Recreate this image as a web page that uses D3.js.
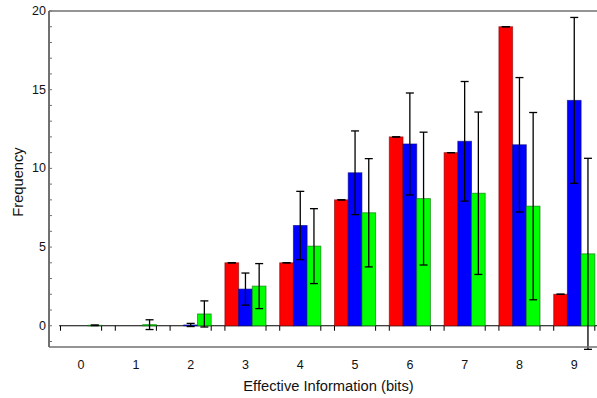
<!DOCTYPE html>
<html><head><meta charset="utf-8">
<script src="https://cdn.jsdelivr.net/npm/d3@7"></script>
<style>body{margin:0;background:#fff}svg{display:block}text{font-family:"Liberation Sans",Arial,sans-serif;fill:#111}</style>
</head><body><svg id="c" width="597" height="398"></svg>
<script>
const categories = [0,1,2,3,4,5,6,7,8,9];
const redValues   = [0, 0, 0, 4, 4, 8, 12, 11, 19, 2];
const redErr      = [0, 0, 0, 0, 0, 0, 0, 0, 0, 0];
const blueValues  = [0, 0, 0.05, 2.33, 6.37, 9.72, 11.55, 11.72, 11.5, 14.32];
const blueErr     = [0, 0, 0.1, 1.02, 2.17, 2.66, 3.24, 3.8, 4.27, 5.27];
const greenValues = [0.03, 0.07, 0.75, 2.52, 5.06, 7.18, 8.08, 8.42, 7.6, 4.57];
const greenErr    = [0.02, 0.31, 0.83, 1.43, 2.38, 3.44, 4.22, 5.16, 5.95, 6.07];
const yMajorTicks = [0, 5, 10, 15, 20];
const yMinorTicks = d3.range(-1, 21, 1);

const svg = d3.select("#c");
const L = 49, T = 11, B = 347;
const x = d3.scaleLinear().domain([-0.585, 9.6]).range([L, L + 10.185 * 54.8]);
const y = d3.scaleLinear().domain([-1.35, 20]).range([B, T]);
const bw = (x(1) - x(0)) / 4;
const series = [
  {vals: redValues, err: redErr, fill: "#ff0000", stroke: "#800000", off: -1.5},
  {vals: blueValues, err: blueErr, fill: "#0000ff", stroke: "#000080", off: -0.5},
  {vals: greenValues, err: greenErr, fill: "#00ff00", stroke: "#007000", off: 0.5}
];

// zero line
svg.append("line").attr("x1", x(-0.4)).attr("x2", 600).attr("y1", y(0)).attr("y2", y(0))
  .attr("stroke", "#000").attr("stroke-width", 1);
// group edge ticks
categories.forEach(c => {
  [-1.5, 1.5].forEach(o => {
    const xx = x(c) + o * bw;
    svg.append("line").attr("x1", xx).attr("x2", xx).attr("y1", y(0)).attr("y2", y(0) + 5)
      .attr("stroke", "#000").attr("stroke-width", 1);
  });
});

// bars
series.forEach(s => {
  svg.append("g").selectAll("rect").data(categories).join("rect")
    .attr("x", c => x(c) + s.off * bw)
    .attr("width", bw)
    .attr("y", c => y(Math.max(0, s.vals[c])))
    .attr("height", c => Math.abs(y(s.vals[c]) - y(0)))
    .attr("fill", s.fill).attr("stroke", s.stroke).attr("stroke-opacity", 0.6).attr("stroke-width", 1);
});
// error bars
series.forEach(s => {
  const g = svg.append("g").attr("stroke", "#000").attr("stroke-width", 1.3);
  categories.forEach(c => {
    const cx = x(c) + (s.off + 0.5) * bw;
    const v = s.vals[c], e = s.err[c];
    if (v === 0 && e === 0) return;
    g.append("line").attr("x1", cx).attr("x2", cx).attr("y1", y(v + e)).attr("y2", y(v - e));
    g.append("line").attr("x1", cx - 4).attr("x2", cx + 4).attr("y1", y(v + e)).attr("y2", y(v + e));
    g.append("line").attr("x1", cx - 4).attr("x2", cx + 4).attr("y1", y(v - e)).attr("y2", y(v - e));
  });
});

// frame
const axisColor = "#707070";
svg.append("line").attr("x1", L).attr("x2", 600).attr("y1", T).attr("y2", T).attr("stroke", axisColor).attr("stroke-width", 1.5);
svg.append("line").attr("x1", L).attr("x2", 600).attr("y1", B).attr("y2", B).attr("stroke", axisColor).attr("stroke-width", 1.5);
svg.append("line").attr("x1", L).attr("x2", L).attr("y1", T).attr("y2", B).attr("stroke", axisColor).attr("stroke-width", 2);
// y ticks
yMinorTicks.forEach(t => {
  svg.append("line").attr("x1", L).attr("x2", L + 3).attr("y1", y(t)).attr("y2", y(t)).attr("stroke", axisColor).attr("stroke-width", 1);
});
svg.append("g").selectAll("text").data(yMajorTicks).join("text")
  .attr("x", 46).attr("y", d => y(d) + 4).attr("text-anchor", "end").attr("font-size", 12.5).text(d => d);
// x labels
svg.append("g").selectAll("text").data(categories).join("text")
  .attr("x", d => x(d)).attr("y", 369).attr("text-anchor", "middle").attr("font-size", 12.5).text(d => d);
// titles
svg.append("text").attr("x", 328.5).attr("y", 391).attr("text-anchor", "middle").attr("font-size", 14.7).text("Effective Information (bits)");
svg.append("text").attr("transform", "translate(23,182) rotate(-90)").attr("text-anchor", "middle").attr("font-size", 14.7).text("Frequency");
</script></body></html>
